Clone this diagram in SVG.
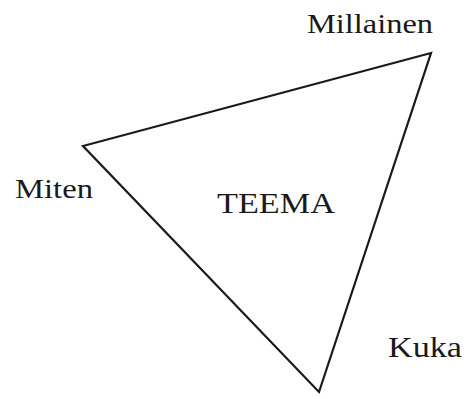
<svg xmlns="http://www.w3.org/2000/svg" width="466" height="399" viewBox="0 0 466 399">
<style>
.lbl{font-family:"Liberation Serif","Times New Roman",serif;font-size:27px;fill:#1a1a1a}
.big{font-size:30px}
.edge{fill:none;stroke:#1a1a1a;stroke-width:2.2;stroke-linejoin:miter}
</style>
<rect width="466" height="399" fill="#ffffff"/>
<g id="connectors">
<polygon class="edge" points="431,53 83,146 319,392"/>
</g>
<g id="node-millainen"><text class="lbl" x="307" y="33" textLength="126" lengthAdjust="spacingAndGlyphs">Millainen</text></g>
<g id="node-miten"><text class="lbl" x="15" y="198" textLength="78" lengthAdjust="spacingAndGlyphs">Miten</text></g>
<g id="node-teema"><text class="lbl big" x="217" y="213" textLength="118" lengthAdjust="spacingAndGlyphs">TEEMA</text></g>
<g id="node-kuka"><text class="lbl big" x="388" y="357" textLength="74" lengthAdjust="spacingAndGlyphs">Kuka</text></g>
</svg>
